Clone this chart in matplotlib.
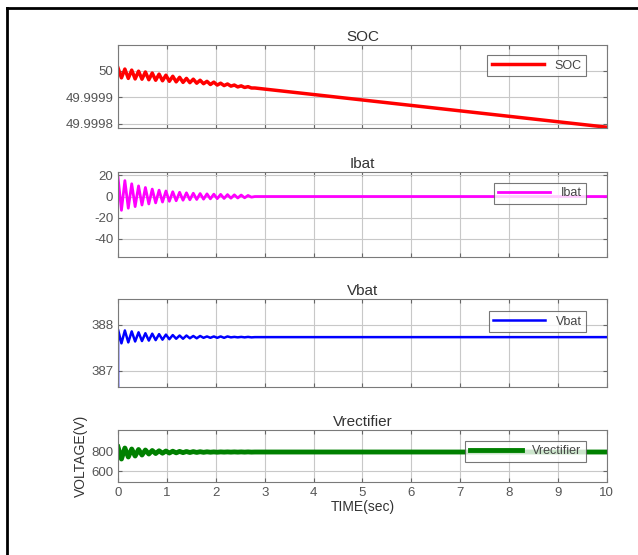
import numpy as np
import matplotlib
matplotlib.use('Agg')
import matplotlib.pyplot as plt
from matplotlib.lines import Line2D

plt.rcParams['font.family'] = ['Liberation Sans', 'DejaVu Sans']

# Моменты экстремумов колебаний (с), общие для всех сигналов
t_osc = [0.00, 0.07, 0.14, 0.21, 0.28, 0.35, 0.42, 0.49, 0.56, 0.63,
         0.70, 0.77, 0.84, 0.91, 0.98, 1.05, 1.12, 1.19, 1.26, 1.33,
         1.40, 1.47, 1.54, 1.61, 1.68, 1.75, 1.82, 1.89, 1.96, 2.03,
         2.10, 2.17, 2.24, 2.31, 2.38, 2.45, 2.52, 2.59, 2.66, 2.73, 2.80]
t_end = 10.0

soc = [50.000010, 49.999973, 50.000006, 49.999971, 50.000002, 49.999969,
       49.999998, 49.999968, 49.999995, 49.999966, 49.999991, 49.999964,
       49.999987, 49.999962, 49.999983, 49.999960, 49.999979, 49.999958,
       49.999975, 49.999956, 49.999971, 49.999955, 49.999968, 49.999953,
       49.999964, 49.999951, 49.999960, 49.999948, 49.999957, 49.999946,
       49.999953, 49.999944, 49.999950, 49.999942, 49.999946, 49.999939,
       49.999943, 49.999937, 49.999940, 49.999935, 49.999935]
soc_end = 49.999788

ibat = [18, -13, 15, -11, 12, -9.5, 10, -8, 8.5, -7, 7, -6, 6, -5.2, 5.2,
        -4.5, 4.5, -4, 4, -3.5, 3.5, -3.1, 3.1, -2.8, 2.8, -2.5, 2.5, -2.2,
        2.2, -2, 2, -1.8, 1.8, -1.6, 1.6, -1.4, 1.4, -1.2, 1.0, -0.6, 0.0]
ibat_end = 0.0

vbat_start = 386.6
vbat = [387.90, 387.60, 387.88, 387.62, 387.86, 387.64, 387.84, 387.65,
        387.82, 387.66, 387.81, 387.67, 387.80, 387.68, 387.79, 387.69,
        387.78, 387.70, 387.77, 387.70, 387.77, 387.71, 387.76, 387.71,
        387.76, 387.72, 387.75, 387.72, 387.75, 387.72, 387.75, 387.72,
        387.75, 387.73, 387.74, 387.73, 387.74, 387.73, 387.74, 387.73,
        387.735]
vbat_end = 387.735

vrect = [840, 720, 830, 740, 820, 750, 815, 760, 810, 770, 805, 775, 802,
         778, 800, 780, 798, 782, 796, 784, 795, 785, 794, 786, 793, 787,
         792, 788, 791, 788, 791, 789, 791, 789, 791, 789, 791, 789, 791,
         789, 790]
vrect_end = 790

txt = '#333333'
fig = plt.figure(figsize=(6.38, 5.55), dpi=100)

def setup(ax, title, yticks, ylabels, ylim, name, leg_box, show_x=False):
    ax.set_xlim(0, 10)
    ax.set_ylim(*ylim)
    ax.set_xticks(range(11))
    ax.set_yticks(yticks)
    ax.set_yticklabels(ylabels)
    if not show_x:
        ax.set_xticklabels([])
    ax.grid(True, color='#c8c8c8', linewidth=0.8)
    ax.tick_params(direction='in', top=True, right=True, labelsize=9.5,
                   colors='#666666', labelcolor='#555555', length=3)
    for s in ax.spines.values():
        s.set_color('#7a7a7a')
    ax.set_title(title, fontsize=11, color=txt, pad=3)
    leg = ax.legend([name], loc='center right', bbox_to_anchor=leg_box,
                    fontsize=9, handlelength=4.2, frameon=True, fancybox=False,
                    borderpad=0.35, labelcolor='#444444')
    leg.get_frame().set_edgecolor('#555555')
    leg.get_frame().set_linewidth(0.8)

left, width = 0.185, 0.766

ax1 = fig.add_axes([left, 0.7694, width, 0.1495])
ax1.plot(t_osc + [t_end], soc + [soc_end], color='red', lw=2.5)
setup(ax1, 'SOC', [49.9998, 49.9999, 50.0], ['49.9998', '49.9999', '50'],
      (49.999785, 50.0000962), 'SOC', (0.97, 0.75))

ax2 = fig.add_axes([left, 0.5369, width, 0.153])
ax2.plot(t_osc + [t_end], ibat + [ibat_end], color='magenta', lw=2)
setup(ax2, 'Ibat', [-40, -20, 0, 20], ['-40', '-20', '0', '20'],
      (-57, 23), 'Ibat', (0.97, 0.75))

ax3 = fig.add_axes([left, 0.3027, width, 0.1586])
ax3.plot([0] + t_osc + [t_end], [vbat_start] + vbat + [vbat_end],
         color='blue', lw=1.8)
setup(ax3, 'Vbat', [387, 388], ['387', '388'], (386.65, 388.565),
      'Vbat', (0.97, 0.74))

ax4 = fig.add_axes([left, 0.1315, width, 0.0937])
ax4.plot(t_osc + [t_end], vrect + [vrect_end], color=(0, 0.5, 0), lw=3.5)
setup(ax4, 'Vrectifier', [600, 800], ['600', '800'], (490, 1010),
      'Vrectifier', (0.97, 0.59), show_x=True)
ax4.set_xlabel('TIME(sec)', fontsize=10, color=txt, labelpad=1)
ax4.set_ylabel('VOLTAGE(V)', fontsize=10, color=txt, labelpad=2)

# рамка рисунка (верх и лево)
fig.add_artist(Line2D([7 / 638, 1], [1 - 8 / 555, 1 - 8 / 555],
                      color='black', lw=2, transform=fig.transFigure))
fig.add_artist(Line2D([7 / 638, 7 / 638], [0, 1 - 8 / 555],
                      color='black', lw=2, transform=fig.transFigure))

plt.savefig('out.png', dpi=100)
